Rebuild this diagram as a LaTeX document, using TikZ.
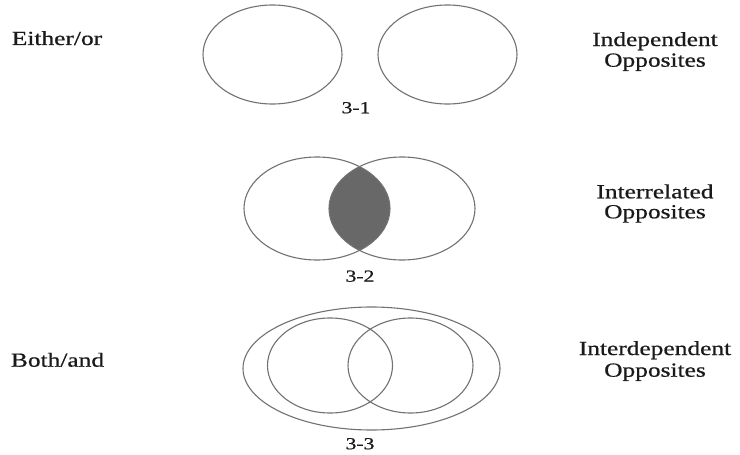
\documentclass[tikz,border=0pt]{standalone}
\usepackage{fontspec}
\setmainfont{Liberation Serif}
\newfontfamily\heavy{Liberation Serif}[FakeBold=0.6]
\usetikzlibrary{positioning}
\definecolor{linegray}{HTML}{727272}
\definecolor{lensgray}{HTML}{686868}
\definecolor{textdark}{HTML}{1A1A1A}
\tikzset{
  venn/.style={draw=linegray, line width=1.1pt},
  sidetext/.style={anchor=base, inner sep=0pt, text=textdark, font=\heavy\fontsize{20}{24}\selectfont},
  figlabel/.style={anchor=base, inner sep=0pt, text=textdark, font=\heavy\fontsize{17}{20}\selectfont},
}
\newcommand{\wide}[1]{\scalebox{1.27}[1]{#1}}
\begin{document}
\begin{tikzpicture}[x=1pt, y=-1pt]
\useasboundingbox (0,0) rectangle (740,455);
\fill[white] (0,0) rectangle (740,455);

% Row 1: independent
\draw[venn] (272.5,54.5) ellipse [x radius=69.5pt, y radius=49.5pt];
\draw[venn] (447.5,54.5) ellipse [x radius=69.5pt, y radius=49.5pt];

% Row 2: interrelated (shaded lens)
\begin{scope}
  \clip (317,208.5) ellipse [x radius=73pt, y radius=51.5pt];
  \fill[lensgray] (402,208.5) ellipse [x radius=73pt, y radius=51.5pt];
\end{scope}
\draw[venn] (317,208.5) ellipse [x radius=73pt, y radius=51.5pt];
\draw[venn] (402,208.5) ellipse [x radius=73pt, y radius=51.5pt];

% Row 3: interdependent
\draw[venn] (371.5,368.5) ellipse [x radius=128.5pt, y radius=61.5pt];
\draw[venn] (330,365.5) ellipse [x radius=62.5pt, y radius=47.5pt];
\draw[venn] (410.5,365.5) ellipse [x radius=62.5pt, y radius=47.5pt];

% Labels
\node[sidetext] (eo) at (57,45) {\wide{Either/or}};
\node[sidetext] (ba) at (57.5,366.7) {\wide{Both/and}};

\node[sidetext] (ind1) at (655,46) {\wide{Independent}};
\node[sidetext] (ind2) at (655,66.7) {\wide{Opposites}};
\node[sidetext] (irl1) at (655,198.3) {\wide{Interrelated}};
\node[sidetext] (irl2) at (655,218.3) {\wide{Opposites}};
\node[sidetext] (idp1) at (655,355) {\wide{Interdependent}};
\node[sidetext] (idp2) at (655,376.7) {\wide{Opposites}};

\node[figlabel] (f1) at (356,113.3) {\wide{3-1}};
\node[figlabel] (f2) at (360,281.7) {\wide{3-2}};
\node[figlabel] (f3) at (360,449.3) {\wide{3-3}};
\end{tikzpicture}
\end{document}
